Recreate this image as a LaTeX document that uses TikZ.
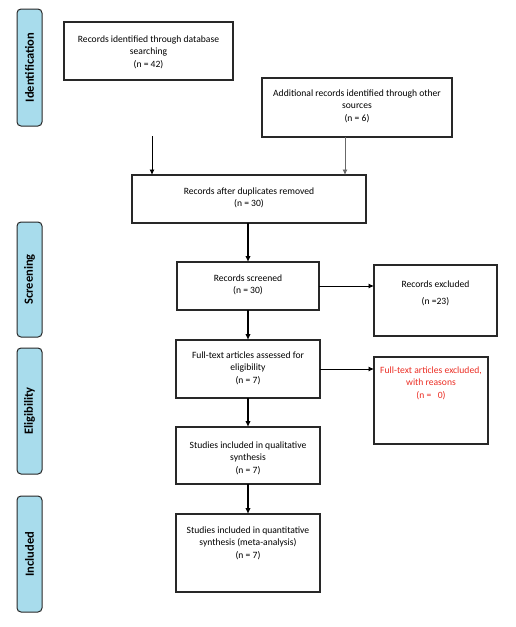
\documentclass[tikz,border=0pt]{standalone}
\usepackage{fontspec}
\setmainfont{Carlito}
\usetikzlibrary{arrows.meta}
\definecolor{phase}{RGB}{168,220,236}
\definecolor{edge}{RGB}{40,40,40}
\definecolor{redtxt}{RGB}{235,45,35}
\newcommand{\tb}[4]{\parbox[t][#2pt][t]{#1pt}{\centering\vspace*{#3pt}\strut #4\par}}
\begin{document}
\begin{tikzpicture}[x=1pt,y=-1pt,
  box/.style={draw=edge, line width=1.1pt, inner sep=0pt, outer sep=0pt, anchor=north west,
    font=\fontsize{9.6}{12.3}\selectfont},
  phasebox/.style={draw=edge, fill=phase, line width=1pt, rounded corners=4pt, rotate=90,
    minimum height=25pt, inner sep=0pt, font=\fontsize{12.5}{14}\selectfont\bfseries},
  thin/.style={line width=0.8pt, -{Latex[length=5.5pt,width=5pt]}},
  thick/.style={line width=1.3pt, -{Latex[length=6pt,width=5.5pt]}}]
\useasboundingbox (0,0) rectangle (515,627);
% phase labels
\node[phasebox, minimum width=117pt] (p1) at (29.5,67.5) {Identification};
\node[phasebox, minimum width=115pt] (p2) at (29.5,279.5) {Screening};
\node[phasebox, minimum width=126pt] (p3) at (29.5,411) {Eligibility};
\node[phasebox, minimum width=116pt] (p4) at (29.5,554) {Included};
% boxes
\node[box] (b1) at (64,22) {\tb{169}{58}{12}{Records identified through database\\ searching\\ (n = 42)}};
\node[box] (b2) at (262,78) {\tb{190}{59}{10}{Additional records identified through other\\ sources\\ (n = 6)}};
\node[box] (b3) at (132,175) {\tb{234}{48}{11}{Records after duplicates removed\\ (n = 30)}};
\node[box] (b4) at (177,262) {\tb{142}{48}{11}{Records screened\\ (n = 30)}};
\node[box] (b5) at (176,340) {\tb{144}{58}{10}{Full-text articles assessed for\\ eligibility\\ (n = 7)}};
\node[box] (b6) at (374,265) {\tb{123}{71}{14}{Records excluded\\[5pt] (n =23)}};
\node[box, text=redtxt] (b7) at (374,357) {\tb{114}{87}{8}{Full-text articles excluded,\\ with reasons\\ (n = \ \ 0)}};
\node[box] (b8) at (176,427) {\tb{144}{57}{13}{Studies included in qualitative\\ synthesis\\ (n = 7)}};
\node[box] (b9) at (176,514) {\tb{144}{78}{11}{Studies included in quantitative\\ synthesis (meta-analysis)\\ (n = 7)}};
% connectors
\coordinate (s1) at (152,136);
\coordinate (s2) at (345,137);
\draw[thin] (s1) -- (s1 |- b3.north);
\draw[thin, draw=edge!70] (s2) -- (s2 |- b3.north);
\draw[thick] (b3.south -| b4.north) -- (b4.north);
\draw[thick] (b4.south) -- (b4.south |- b5.north);
\draw[thin] (b4.east) -- (b4.east -| b6.west);
\draw[thin] (b5.east) -- (b5.east -| b7.west);
\draw[thick] (b5.south) -- (b5.south |- b8.north);
\draw[thick] (b8.south) -- (b8.south |- b9.north);
\end{tikzpicture}
\end{document}
